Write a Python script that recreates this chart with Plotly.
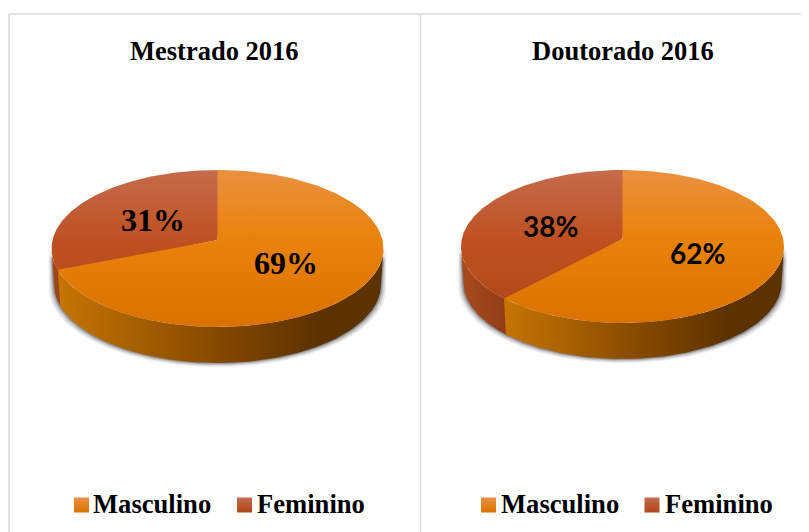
import numpy as np
import plotly.graph_objects as go

# values
categories = ["Masculino", "Feminino"]
mestrado_values = [69, 31]
doutorado_values = [62, 38]
panel_titles = ["Mestrado 2016", "Doutorado 2016"]

# the page keeps its default 8px body margin, so the figure starts at (8, 8)
WIDTH, HEIGHT = 809, 532
PAGE_MARGIN = 8
MASC_TOP = [[0, "#EA9140"], [0.45, "#E9820A"], [1, "#DB7100"]]
FEM_TOP = [[0, "#C56B4C"], [0.45, "#BE5122"], [1, "#AE4617"]]
MASC_WALL = [[0, "#C67504"], [0.45, "#8A4C00"], [0.8, "#5C3200"], [1, "#5C3200"]]
FEM_WALL = [[0, "#A94B1F"], [1, "#8F3C16"]]
TEXT_COLOR = "#000000"
BORDER = "#D9D9D9"
BOTTOM_SHRINK = 0.985  # the lower rim sits further from the viewer


def project(theta, r, p):
    # perspective view of a flat disc, theta is clockwise from 12 o'clock in degrees
    u = r * np.sin(np.radians(theta))
    v = r * np.cos(np.radians(theta))
    w = 1 + p["k"] * v
    return p["cx"] + p["a"] * u / w, p["cy"] - p["b"] * v / w


def top_slice(fig, start, end, colors, p):
    t = np.linspace(start, end, 160)
    x, y = project(t, 1, p)
    x = np.concatenate([[p["cx"]], x, [p["cx"]]])
    y = np.concatenate([[p["cy"]], y, [p["cy"]]])
    fig.add_trace(go.Scatter(
        x=x, y=y, mode="lines", fill="toself", line=dict(width=0),
        fillgradient=dict(type="vertical", colorscale=colors, start=p["top"], stop=p["front"]),
        hoverinfo="skip", showlegend=False,
    ))


def wall_slice(fig, start, end, colors, p):
    # only the part of the rim facing the viewer
    start, end = max(start, p["vis0"]), min(end, p["vis1"])
    if end <= start:
        return
    t = np.linspace(start, end, 120)
    x, y = project(t, 1, p)
    x_low = p["cx"] + (x - p["cx"]) * BOTTOM_SHRINK
    xs = np.concatenate([x, x_low[::-1], x[:1]])
    ys = np.concatenate([y, y[::-1] + p["depth"], y[:1]])
    fig.add_trace(go.Scatter(
        x=xs, y=ys, mode="lines", fill="toself", line=dict(width=0),
        fillgradient=dict(type="horizontal", colorscale=colors),
        hoverinfo="skip", showlegend=False,
    ))


def shadow(fig, p):
    t = np.linspace(p["vis0"], p["vis1"], 160)
    for grow, alpha in [(5, 0.10), (3.5, 0.16), (2, 0.24), (1, 0.32)]:
        x, y = project(t, 1, p)
        x_up = p["cx"] + (x - p["cx"]) * (1 + grow / p["a"] * 0.6)
        x_low = p["cx"] + (x - p["cx"]) * (BOTTOM_SHRINK + grow / p["a"])
        fig.add_trace(go.Scatter(
            x=np.concatenate([x_up, x_low[::-1]]),
            y=np.concatenate([y, y[::-1] + p["depth"] + grow * 0.8]),
            mode="lines", fill="toself", line=dict(width=0),
            fillcolor=f"rgba(70,70,80,{alpha})",
            hoverinfo="skip", showlegend=False,
        ))


def draw_pie(fig, values, p):
    total = sum(values)
    angles = np.cumsum([0] + values) / total * 360
    shadow(fig, p)
    # Feminino goes first and runs a little under Masculino so no white seam shows
    wall_slice(fig, angles[1] - 1, angles[2], FEM_WALL, p)
    wall_slice(fig, angles[0], angles[1], MASC_WALL, p)
    top_slice(fig, angles[1] - 2, angles[2] + 2, FEM_TOP, p)
    top_slice(fig, angles[0], angles[1], MASC_TOP, p)
    for i, val in enumerate(values):
        x, y = project((angles[i] + angles[i + 1]) / 2, 0.49, p)
        fig.add_annotation(
            x=x, y=y + p["label_dy"], text=f"<b>{val}%</b>", showarrow=False,
            font=dict(family=p["label_font"], size=p["label_size"], color=TEXT_COLOR),
        )


def draw_legend(fig, squares, labels):
    for sq, lab, name, colors in zip(squares, labels, categories, [MASC_TOP, FEM_TOP]):
        fig.add_trace(go.Scatter(
            x=[sq], y=[505], mode="markers",
            marker=dict(symbol="square", size=15, color=colors[0][1], line=dict(width=0),
                        gradient=dict(type="vertical", color=colors[-1][1])),
            name=name, hoverinfo="skip", showlegend=False,
        ))
        fig.add_annotation(
            x=lab, y=504, text=f"<b>{name}</b>", showarrow=False, xanchor="left",
            font=dict(family="Liberation Serif", size=26.6, color=TEXT_COLOR),
        )


left_pie = dict(cx=217.5, cy=240, a=165, b=77.6, k=0.108, depth=36, top=170, front=327,
                vis0=96.6, vis1=263.4, label_font="Liberation Serif", label_size=32, label_dy=1)
right_pie = dict(cx=622.5, cy=239, a=160.7, b=75.8, k=0.098, depth=36, top=170, front=323,
                 vis0=96.6, vis1=263.4, label_font="Lato", label_size=28, label_dy=0)

fig = go.Figure()
draw_pie(fig, mestrado_values, left_pie)
draw_pie(fig, doutorado_values, right_pie)
draw_legend(fig, [81.5, 244.5], [91, 255])
draw_legend(fig, [488.5, 652], [499, 663])

for title, cx in zip(panel_titles, [214.5, 622.5]):
    fig.add_annotation(
        x=cx, y=51, text=f"<b>{title}</b>", showarrow=False,
        font=dict(family="Liberation Serif", size=26.5, color=TEXT_COLOR),
    )

# panel frames
for x0, y0, x1, y1 in [(9, 14, WIDTH, 14), (9, 14, 9, HEIGHT), (420.5, 14, 420.5, HEIGHT)]:
    fig.add_shape(type="line", x0=x0, y0=y0, x1=x1, y1=y1, line=dict(color=BORDER, width=1.5))

fig.update_xaxes(range=[PAGE_MARGIN, WIDTH], visible=False, fixedrange=True)
fig.update_yaxes(range=[HEIGHT, PAGE_MARGIN], visible=False, fixedrange=True)
fig.update_layout(
    width=WIDTH - PAGE_MARGIN, height=HEIGHT - PAGE_MARGIN,
    margin=dict(l=0, r=0, t=0, b=0),
    paper_bgcolor="white", plot_bgcolor="white",
    showlegend=False,
)
fig.write_html("out.html")
